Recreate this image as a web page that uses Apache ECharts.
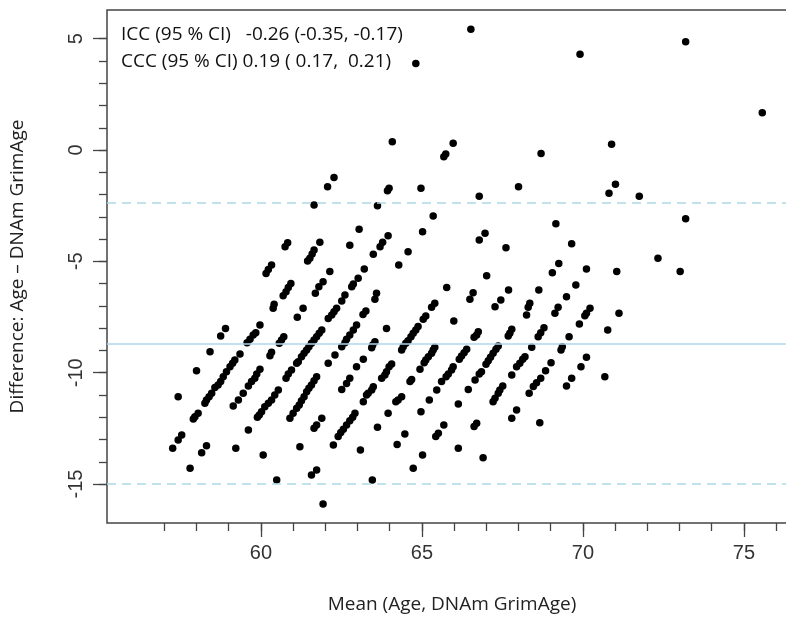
<!DOCTYPE html>
<html><head><meta charset="utf-8">
<script src="https://cdn.jsdelivr.net/npm/echarts@6/dist/echarts.min.js"></script>
<style>html,body{margin:0;padding:0;background:#fff;overflow:hidden}#c{width:786px;height:619px}</style>
</head><body><div id="c"></div>
<script>
// [mean of Age and DNAm GrimAge, difference Age - DNAm GrimAge]
const points = [
[62.27,-1.23],[62.07,-1.65],[61.65,-2.47],[63.05,-3.56],[60.83,-4.16],[60.75,-4.34],[61.83,-4.14],[61.65,-4.49],[61.59,-4.67],[61.52,-4.86],[61.45,-4.98],[62.76,-4.27],[60.33,-5.16],[60.23,-5.36],[60.16,-5.54],[62.14,-5.46],[61.93,-5.91],[61.80,-6.14],[61.69,-6.43],[63.02,-5.76],[62.87,-6.02],[62.82,-6.14],[60.93,-5.99],[60.85,-6.17],[60.78,-6.36],[60.69,-6.54],[62.61,-6.51],
[60.41,-6.92],[60.38,-7.11],[61.31,-7.11],[61.13,-7.51],[62.51,-6.78],[62.35,-7.11],[62.27,-7.26],[62.20,-7.41],[62.09,-7.56],[58.90,-8.01],[58.75,-8.35],[59.97,-7.86],[59.84,-8.20],[59.76,-8.31],[59.66,-8.50],[59.57,-8.65],[62.97,-7.86],[62.87,-8.08],[62.76,-8.31],[62.66,-8.50],[62.61,-8.65],[62.51,-8.83],[61.89,-8.08],[61.81,-8.23],[61.73,-8.38],[61.65,-8.53],[61.57,-8.68],[61.49,-8.83],[61.42,-8.98],[61.34,-9.13],[61.26,-9.28],[61.16,-9.51],[61.11,-9.58],[60.71,-8.38],[60.64,-8.53],[60.57,-8.68],[58.42,-9.06],[59.35,-9.16],[59.19,-9.43],[59.12,-9.58],[59.04,-9.73],[58.93,-9.96],[58.83,-10.18],[58.75,-10.40],[58.67,-10.55],[58.57,-10.66],[58.47,-10.92],[58.39,-11.08],[58.31,-11.23],[58.26,-11.37],[58.05,-11.82],[57.95,-11.98],[57.90,-12.08],[60.33,-9.08],[60.28,-9.24],[58.00,-9.91],[59.97,-9.85],[59.87,-10.06],[59.81,-10.25],[59.71,-10.40],[59.61,-10.60],[59.45,-10.92],[59.30,-11.23],[59.14,-11.50],[60.95,-9.88],[60.85,-10.06],[60.78,-10.25],[62.30,-9.21],[62.09,-9.58],[61.73,-10.18],[61.65,-10.36],[61.57,-10.55],[61.49,-10.70],[61.42,-10.85],[61.34,-11.08],[61.26,-11.26],[61.19,-11.45],[61.11,-11.60],[61.00,-11.82],[60.90,-12.05],[62.97,-9.73],[62.76,-10.25],[62.66,-10.48],[62.51,-10.75],[60.54,-10.78],[60.43,-11.00],[60.33,-11.23],[60.23,-11.37],[60.12,-11.53],[60.02,-11.75],[59.95,-11.90],[59.89,-12.00],[57.43,-11.08],[62.92,-11.82],[62.85,-12.00],[62.76,-12.16],[62.66,-12.35],[62.56,-12.54],[62.48,-12.69],[62.40,-12.87],[62.25,-13.25],[61.89,-12.05],[61.73,-12.35],[61.65,-12.50],[57.54,-12.80],[57.43,-13.02],[57.26,-13.39],[59.61,-12.57],[58.31,-13.28],[58.16,-13.59],[59.22,-13.39],[60.07,-13.70],[61.21,-13.32],[61.73,-14.37],[61.57,-14.59],[57.80,-14.29],[60.49,-14.82],[61.93,-15.90],[63.09,-13.47],
[64.08,0.37],[65.97,0.30],[65.74,-0.18],[65.68,-0.30],[68.70,-0.16],[63.98,-1.72],[63.93,-1.83],[64.97,-1.72],[66.78,-2.07],[68.00,-1.65],[63.62,-2.50],[65.35,-2.96],[65.02,-3.67],[63.95,-3.85],[63.78,-4.14],[63.70,-4.34],[63.49,-4.68],[66.96,-3.74],[66.78,-4.04],[67.61,-4.39],[64.57,-4.57],[64.28,-5.16],[63.21,-5.34],[67.01,-5.64],[65.77,-6.17],[66.59,-6.41],[66.49,-6.70],[67.69,-6.29],[67.45,-6.74],[63.59,-6.43],[63.54,-6.70],[68.63,-6.29],
[65.40,-6.88],[65.30,-7.06],[67.27,-7.04],[68.35,-6.88],[68.30,-7.06],[63.26,-7.23],[63.17,-7.39],[65.12,-7.45],[65.04,-7.60],[65.99,-7.68],[68.25,-7.41],[63.90,-8.01],[64.88,-7.93],[64.81,-8.08],[64.73,-8.23],[64.66,-8.38],[64.57,-8.56],[64.50,-8.68],[64.42,-8.83],[64.37,-8.98],[66.75,-8.16],[66.70,-8.31],[66.62,-8.41],[67.79,-8.05],[67.73,-8.23],[67.68,-8.35],[68.61,-8.38],[63.54,-8.61],[63.47,-8.76],[63.44,-8.88],[65.40,-8.86],[65.35,-8.98],[65.30,-9.13],[65.20,-9.28],[65.12,-9.43],[65.07,-9.55],[66.39,-8.95],[66.31,-9.10],[66.23,-9.25],[66.16,-9.40],[67.37,-8.80],[67.30,-8.95],[67.21,-9.13],[67.13,-9.31],[67.06,-9.46],[66.99,-9.62],[68.41,-8.86],[68.20,-9.28],[68.13,-9.40],[68.04,-9.58],[67.94,-9.73],[63.18,-9.40],[64.06,-9.61],[63.98,-9.73],[63.90,-9.96],[63.85,-10.10],[63.75,-10.25],[64.94,-9.85],[65.97,-9.73],[65.92,-9.88],[65.82,-10.06],[65.75,-10.18],[65.61,-10.40],[66.85,-9.96],[66.78,-10.06],[67.79,-10.10],[64.68,-10.30],[64.63,-10.40],[66.65,-10.33],[63.49,-10.63],[63.44,-10.78],[63.33,-10.92],[63.28,-11.00],[63.18,-11.30],[65.46,-10.78],[66.44,-10.75],[67.51,-10.60],[67.42,-10.78],[67.37,-10.92],[67.27,-11.15],[67.21,-11.30],[68.69,-10.25],[68.56,-10.45],[68.46,-10.62],[68.33,-10.92],[64.37,-11.08],[64.26,-11.23],[64.19,-11.30],[65.23,-11.23],[66.13,-11.41],[63.95,-11.82],[64.97,-11.75],[67.94,-11.67],[67.79,-12.05],[65.68,-12.35],[66.70,-12.27],[66.62,-12.42],[63.62,-12.45],[64.47,-12.75],[65.51,-12.72],[65.43,-12.87],[64.23,-13.22],[66.13,-13.39],[65.02,-13.70],[66.90,-13.82],[64.73,-14.29],[63.46,-14.82],
[69.91,4.30],[73.19,4.86],[75.57,1.67],[70.89,0.26],[71.01,-1.54],[70.81,-1.94],[71.75,-2.07],[69.16,-3.31],[69.65,-4.21],[73.19,-3.08],[66.52,5.42],[64.81,3.89],
[72.33,-4.86],[69.25,-5.09],[69.05,-5.51],[70.11,-5.34],[71.05,-5.46],[73.02,-5.45],[69.78,-6.06],[69.49,-6.59],[69.23,-7.06],[69.13,-7.33],[70.22,-7.11],[70.11,-7.33],[70.06,-7.44],[71.12,-7.33],[69.89,-7.81],[68.79,-7.98],[68.69,-8.20],[70.77,-8.08],[69.57,-8.38],[69.36,-8.83],[69.32,-8.98],[69.01,-9.55],[70.11,-9.31],[69.94,-9.73],[68.84,-9.91],[69.65,-10.25],[69.49,-10.60],[70.68,-10.18],[68.66,-12.25]
];
const biasValue = -8.69;
const upperLimit = -2.38;
const lowerLimit = -15.0;
const xTickValues = [57,58,59,60,61,62,63,64,65,66,67,68,69,70,71,72,73,74,75,76];
const xLabelValues = [60,65,70,75];
const yTickValues = [-15,-14,-13,-12,-11,-10,-9,-8,-7,-6,-5,-4,-3,-2,-1,0,1,2,3,4,5];
const yLabelValues = [-15,-10,-5,0,5];
const statLines = ['ICC (95 % CI)   -0.26 (-0.35, -0.17)', 'CCC (95 % CI) 0.19 ( 0.17,  0.21)'];
const xTitle = 'Mean (Age, DNAm GrimAge)';
const yTitle = 'Difference: Age \u2013 DNAm GrimAge';

// plot box extends past the right edge of the picture (right border is cropped off)
const X_MIN = 55.22, X_MAX = 77.58, Y_MIN = -16.75, Y_MAX = 6.29;
const axisColor = '#444';
const tickFont = 'Liberation Sans';
const textFont = 'Open Sans';
const refBlue = '#ADD8E6';

const chart = echarts.init(document.getElementById('c'), null, {renderer: 'canvas'});

function baseX(extra) {
  return Object.assign({
    type: 'value', min: X_MIN, max: X_MAX, position: 'bottom', gridIndex: 0,
    axisLine: {show: false, onZero: false}, splitLine: {show: false}
  }, extra);
}
function baseY(extra) {
  return Object.assign({
    type: 'value', min: Y_MIN, max: Y_MAX, position: 'left', gridIndex: 0,
    axisLine: {show: false, onZero: false}, splitLine: {show: false}
  }, extra);
}

chart.setOption({
  animation: false,
  backgroundColor: '#fff',
  grid: {left: 107, top: 10, width: 720, height: 513, outerBoundsMode: 'none', containLabel: false,
         show: true, borderColor: axisColor, borderWidth: 1.5, backgroundColor: 'transparent'},
  xAxis: [
    baseX({
      axisTick: {show: true, customValues: xTickValues, length: 8, lineStyle: {color: axisColor, width: 1.3}},
      axisLabel: {show: false}
    }),
    baseX({
      axisTick: {show: true, customValues: xLabelValues, length: 14, lineStyle: {color: axisColor, width: 1.3}},
      axisLabel: {show: true, customValues: xLabelValues, margin: 20, fontSize: 20, fontFamily: tickFont, color: '#333'},
      name: xTitle, nameLocation: 'middle', nameGap: 72,
      nameTextStyle: {fontSize: 19, fontFamily: textFont, color: '#222', padding: [0, 30, 0, 0]}
    })
  ],
  yAxis: [
    baseY({
      axisTick: {show: true, customValues: yTickValues, length: 8, lineStyle: {color: axisColor, width: 1.3}},
      axisLabel: {show: false}
    }),
    baseY({
      axisTick: {show: true, customValues: yLabelValues, length: 14, lineStyle: {color: axisColor, width: 1.3}},
      axisLabel: {show: true, customValues: yLabelValues, margin: 21, rotate: 90, fontSize: 20, fontFamily: tickFont, color: '#333'},
      name: yTitle, nameLocation: 'middle', nameGap: 80,
      nameTextStyle: {fontSize: 19, fontFamily: textFont, color: '#222'}
    })
  ],
  graphic: [
    {type: 'text', left: 121, top: 25, style: {text: statLines[0], fontSize: 19, fontFamily: textFont, fill: '#111'}},
    {type: 'text', left: 121, top: 52, style: {text: statLines[1], fontSize: 19, fontFamily: textFont, fill: '#111'}}
  ],
  series: [{
    type: 'scatter', xAxisIndex: 0, yAxisIndex: 0,
    data: points, symbol: 'circle', symbolSize: 7.5,
    itemStyle: {color: '#000', opacity: 1},
    markLine: {
      silent: true, symbol: ['none', 'none'], label: {show: false},
      lineStyle: {color: refBlue, width: 1.5},
      data: [
        {yAxis: biasValue, lineStyle: {type: 'solid', color: refBlue, width: 1.5}},
        {yAxis: upperLimit, lineStyle: {type: [9, 6], color: refBlue, width: 1.5}},
        {yAxis: lowerLimit, lineStyle: {type: [9, 6], color: refBlue, width: 1.5}}
      ]
    }
  }]
});
</script>
</body></html>
